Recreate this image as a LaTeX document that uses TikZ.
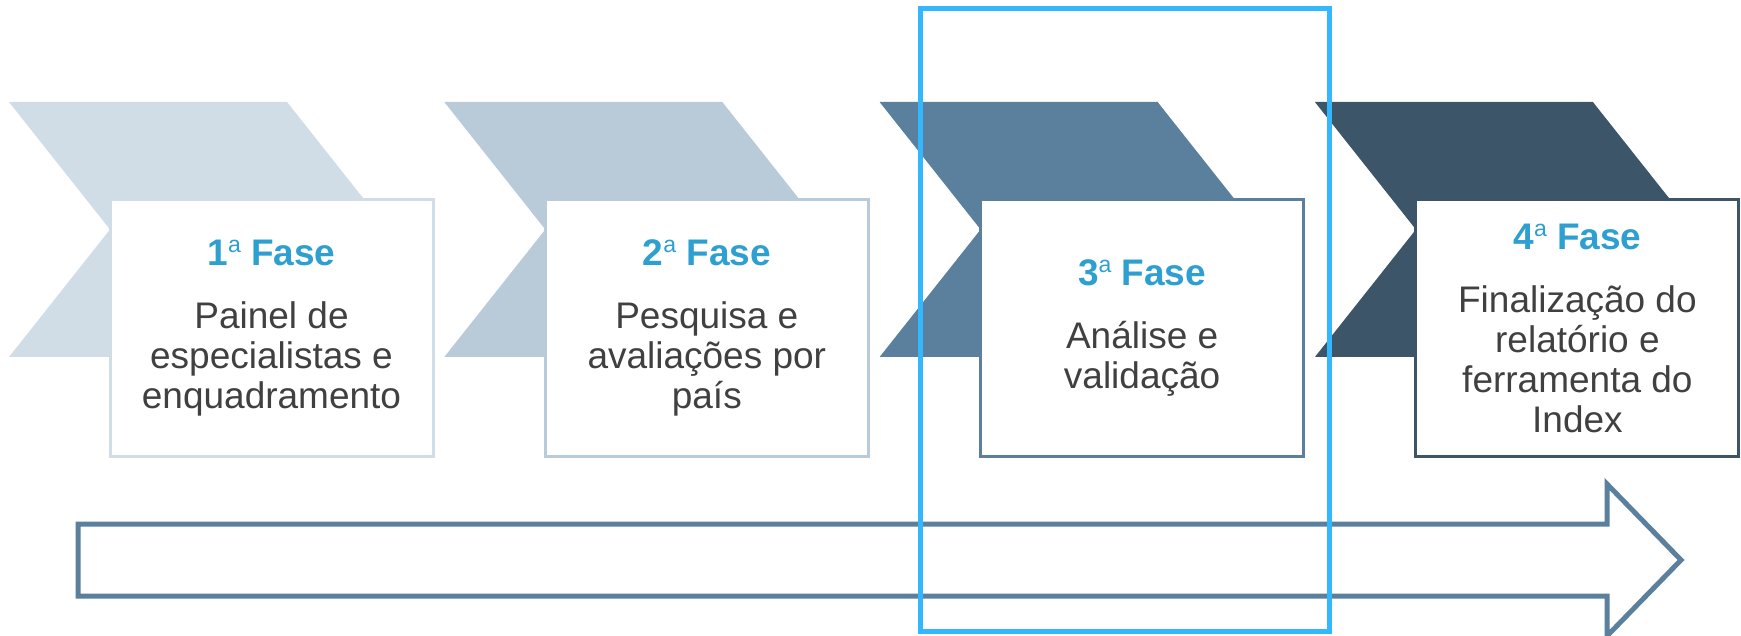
\documentclass[tikz,border=0pt]{standalone}
\usepackage{fontspec}
\setmainfont{Liberation Sans}
\definecolor{cA}{HTML}{D0DCE6}
\definecolor{cB}{HTML}{B9CBD9}
\definecolor{cC}{HTML}{5A809E}
\definecolor{cD}{HTML}{3C5569}
\definecolor{titleblue}{HTML}{2E9FD1}
\definecolor{bodygray}{HTML}{404040}
\definecolor{hlblue}{HTML}{33B8FF}
\newcommand{\phasetitle}[1]{{\fontsize{37}{40}\selectfont\bfseries\color{titleblue}#1\raisebox{13pt}{\fontsize{23}{23}\selectfont\mdseries a} Fase}}
\begin{document}
\begin{tikzpicture}[x=1pt,y=-1pt,
  phasebox/.style={line width=3pt, fill=white, minimum width=323pt, minimum height=257pt,
    inner sep=0pt, align=center, text=bodygray, font=\fontsize{37}{40}\selectfont},
  bigarrow/.style={draw=cC, line width=5pt, line join=miter},
  highlight/.style={draw=hlblue, line width=5pt}
]
\useasboundingbox (0,0) rectangle (1741,636);
% chevrons
\foreach \x/\c in {9/cA, 444.3/cB, 879.6/cC, 1314.9/cD} {
  \fill[\c] (\x,102) -- ++(278,0) -- ++(101,127.5) -- ++(-101,127.5) -- ++(-278,0) -- ++(101,-127.5) -- cycle;
}
% boxes
\node[phasebox, draw=cA] (b1) at (271.5,328) {\phasetitle{1}\\[23pt]Painel de\\especialistas e\\enquadramento};
\node[phasebox, draw=cB] (b2) at (706.8,328) {\phasetitle{2}\\[23pt]Pesquisa e\\avaliações por\\país};
\node[phasebox, draw=cC] (b3) at (1142.1,328) {\phasetitle{3}\\[23pt]Análise e\\validação};
\node[phasebox, draw=cD] (b4) at (1577.4,328) {\phasetitle{4}\\[23pt]Finalização do\\relatório e\\ferramenta do\\Index};
% big arrow
\draw[bigarrow] (78,524) -- (1607,524) -- (1607,484) -- (1681,560) -- (1607,636) -- (1607,596) -- (78,596) -- cycle;
% highlight frame
\draw[highlight] (920,9) rectangle (1329,631);
\end{tikzpicture}
\end{document}
